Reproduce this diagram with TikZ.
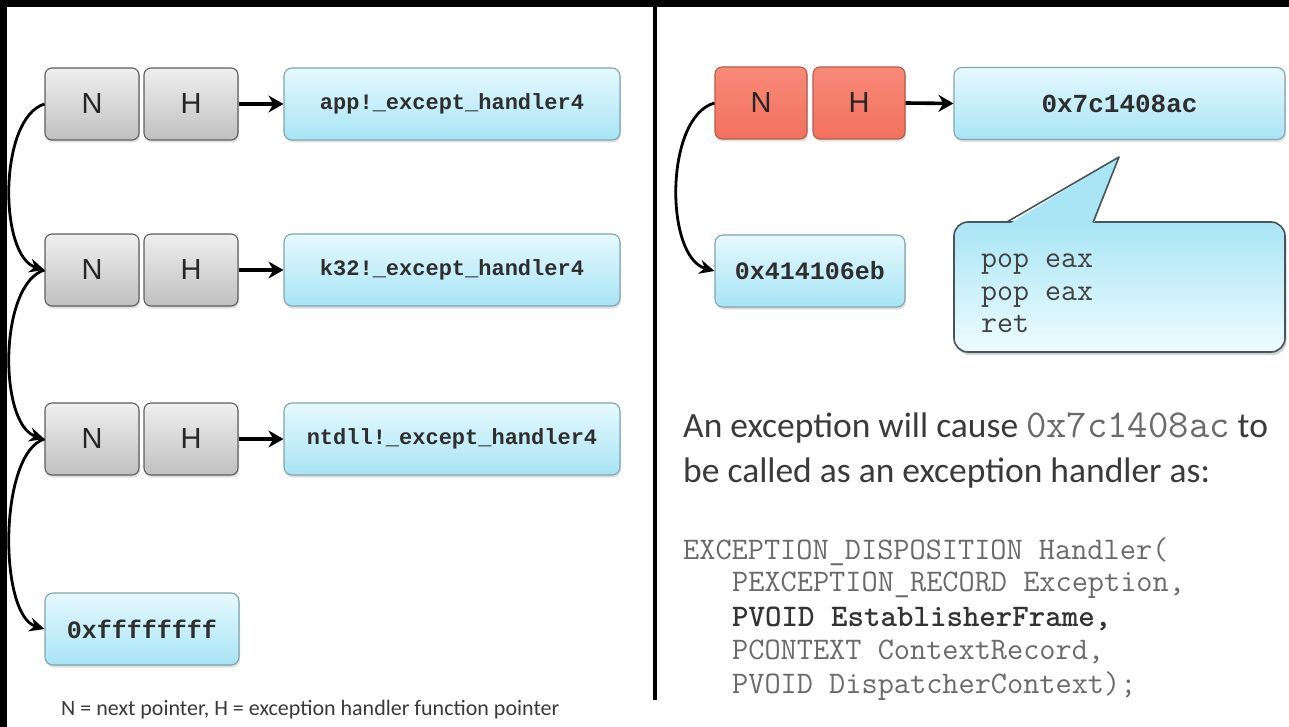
\documentclass[tikz,border=0pt]{standalone}
\usepackage{fontspec}
\setmainfont{Carlito}
\newfontfamily\boxmono{Liberation Mono}
\newfontfamily\arialfont{Liberation Sans}
\usetikzlibrary{arrows.meta,shadows}

\newcommand\fsz[1]{\fontsize{#1}{#1}\selectfont}

\definecolor{grayTop}{HTML}{EFEFEF}
\definecolor{grayBot}{HTML}{C0C0C0}
\definecolor{grayEdge}{HTML}{5E5E5E}
\definecolor{redTop}{HTML}{F88A78}
\definecolor{redBot}{HTML}{F2705E}
\definecolor{redEdge}{HTML}{B45B4D}
\definecolor{blueTop}{HTML}{E6F9FE}
\definecolor{blueBot}{HTML}{A8E4F5}
\definecolor{blueEdge}{HTML}{7FA5AE}
\definecolor{calloutTop}{HTML}{A9E5F4}
\definecolor{calloutBot}{HTML}{EEFCFF}
\definecolor{calloutEdge}{HTML}{46565C}
\definecolor{codeGray}{HTML}{6A6A6A}
\definecolor{textGray}{HTML}{3A3A3A}

\tikzset{
  softshadow/.style={drop shadow={shadow xshift=1pt, shadow yshift=-2.5pt, opacity=.25}},
  cell/.style={rounded corners=7pt, draw=grayEdge, line width=1.1pt,
    top color=grayTop, bottom color=grayBot, minimum width=94pt,
    minimum height=72pt, inner sep=0pt, font=\arialfont\fsz{29}, text=black!85, softshadow},
  redcell/.style={cell, top color=redTop, bottom color=redBot, draw=redEdge},
  target/.style={rounded corners=8pt, draw=blueEdge, line width=1.1pt,
    top color=blueTop, bottom color=blueBot, minimum height=72pt,
    inner sep=0pt, font=\boxmono\bfseries\fsz{22}, text=black!82, softshadow},
  link/.style={-{Stealth[length=15pt,width=14pt]}, line width=2.8pt},
  ptr/.style={-{Stealth[length=15pt,width=17pt]}, line width=3.6pt},
  codeline/.style={anchor=west, inner sep=0pt, font=\ttfamily\fsz{31.4}, text=codeGray}
}

\begin{document}
\begin{tikzpicture}[x=1pt,y=-1pt]
  % page and black frame edges
  \useasboundingbox (0,0) rectangle (1289,727);
  \fill[white] (0,0) rectangle (1289,727);
  \fill[black] (0,0) rectangle (1289,7);
  \fill[black] (0,0) rectangle (7,727);

  % ---------- left: the normal SEH chain ----------
  \node[cell] (n1) at (92,104) {N};
  \node[cell] (h1) at (191,104) {H};
  \node[target, minimum width=336pt] (f1) at (452,104) {app!\_except\_handler4};

  \node[cell] (n2) at (92,270) {N};
  \node[cell] (h2) at (191,270) {H};
  \node[target, minimum width=336pt] (f2) at (452,270) {k32!\_except\_handler4};

  \node[cell] (n3) at (92,439) {N};
  \node[cell] (h3) at (191,439) {H};
  \node[target, minimum width=336pt] (f3) at (452,439) {ntdll!\_except\_handler4};

  \node[target, minimum width=194pt, font=\boxmono\bfseries\fsz{25}] (end) at (142,629) {0xffffffff};

  \draw[ptr] (h1.east) -- (f1.west);
  \draw[ptr] (h2.east) -- (f2.west);
  \draw[ptr] (h3.east) -- (f3.west);

  \draw[link] (n1.west) .. controls +(-46,14) and +(-46,-14) .. (n2.west);
  \draw[link] (n2.west) .. controls +(-46,14) and +(-46,-14) .. (n3.west);
  \draw[link] (n3.west) .. controls +(-46,14) and +(-46,-14) .. (end.west);

  \node[anchor=base west, inner sep=0pt, font=\fsz{22}, text=textGray] (legend) at (61,715)
    {N = next pointer, H = exception handler function pointer};

  % ---------- divider ----------
  \draw[line width=4pt] (655,7) -- (655,700);

  % ---------- right: the overwritten record ----------
  \node[redcell, minimum width=92pt] (rn) at (761,103) {N};
  \node[redcell, minimum width=92pt] (rh) at (859,103) {H};
  \node[target, minimum width=331pt, font=\boxmono\bfseries\fsz{26}] (rf) at (1119.5,103.5) {0x7c1408ac};
  \node[target, minimum width=190pt, font=\boxmono\bfseries\fsz{25}] (eb) at (810,271) {0x414106eb};

  \draw[ptr] (rh.east) -- (rf.west);
  \draw[link] (rn.west) .. controls +(-50,14) and +(-50,-14) .. (eb.west);

  % callout with the gadget
  \node[rounded corners=14pt, draw=calloutEdge, line width=1.6pt,
        top color=calloutTop, bottom color=calloutBot,
        minimum width=331pt, minimum height=130pt,
        drop shadow={shadow xshift=1.5pt, shadow yshift=-3pt, opacity=.35}] (callout) at (1119.5,287) {};
  \fill[calloutTop] (1006,226) -- (1119,157) -- (1093,226) -- cycle;
  \draw[calloutEdge, line width=1.6pt, line join=round] (1006,222.5) -- (1119,157) -- (1093,222.5);
  \node[anchor=north west, align=left, inner sep=0pt, font=\ttfamily\fontsize{31}{32.5}\selectfont,
        text=black!75] (gadget) at (981,254) {pop eax\\pop eax\\ret};

  % explanation
  \node[anchor=west, inner sep=0pt, font=\fsz{35.5}, text=textGray] (say1) at (683,428)
    {An exception will cause {\ttfamily\fsz{39.5}\color{codeGray}0x7c1408ac} to};
  \node[anchor=west, inner sep=0pt, font=\fsz{35.5}, text=textGray] (say2) at (683,473)
    {be called as an exception handler as:};

  \node[codeline] (c1) at (683,552) {EXCEPTION\_DISPOSITION Handler(};
  \node[codeline] (c2) at (732,585) {PEXCEPTION\_RECORD Exception,};
  \node[codeline, font=\ttfamily\bfseries\fsz{31.4}, text=black!80] (c3) at (732,619) {PVOID EstablisherFrame,};
  \node[codeline] (c4) at (732,652) {PCONTEXT ContextRecord,};
  \node[codeline] (c5) at (732,686) {PVOID DispatcherContext);};
\end{tikzpicture}
\end{document}
